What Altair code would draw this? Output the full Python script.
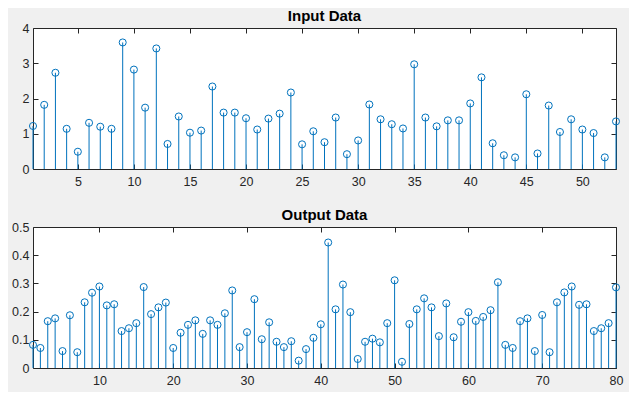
import altair as alt
import pandas as pd

BLUE = "#0072BD"
INK = "#262626"

input_values = [1.22, 1.82, 2.73, 1.14, 0.49, 1.31, 1.20, 1.14, 3.59, 2.82,
                1.74, 3.42, 0.71, 1.49, 1.03, 1.09, 2.34, 1.60, 1.60, 1.44,
                1.12, 1.43, 1.57, 2.17, 0.70, 1.07, 0.76, 1.46, 0.42, 0.81,
                1.83, 1.41, 1.27, 1.15, 2.97, 1.46, 1.21, 1.38, 1.38, 1.86,
                2.60, 0.73, 0.39, 0.33, 2.12, 0.44, 1.80, 1.05, 1.41, 1.12,
                1.02, 0.33, 1.35]

output_values = [0.082, 0.071, 0.166, 0.176, 0.060, 0.187, 0.056, 0.233, 0.267, 0.289,
                 0.222, 0.226, 0.131, 0.141, 0.159, 0.287, 0.191, 0.215, 0.232, 0.071,
                 0.125, 0.153, 0.169, 0.121, 0.169, 0.153, 0.194, 0.275, 0.074, 0.127,
                 0.244, 0.102, 0.162, 0.093, 0.074, 0.095, 0.026, 0.067, 0.107, 0.155,
                 0.445, 0.208, 0.296, 0.198, 0.032, 0.093, 0.104, 0.091, 0.159, 0.311,
                 0.022, 0.156, 0.208, 0.247, 0.215, 0.113, 0.229, 0.109, 0.164, 0.198,
                 0.167, 0.181, 0.205, 0.304, 0.082, 0.071, 0.166, 0.176, 0.060, 0.188,
                 0.056, 0.233, 0.268, 0.289, 0.224, 0.226, 0.131, 0.141, 0.159, 0.286]

input_xticks = [5, 10, 15, 20, 25, 30, 35, 40, 45, 50]
input_yticks = [0, 1, 2, 3, 4]
output_xticks = [10, 20, 30, 40, 50, 60, 70, 80]
output_yticks = [0, 0.1, 0.2, 0.3, 0.4, 0.5]

AX = dict(domain=False, grid=False, ticks=True, tickSize=5, offset=-5,
          tickColor=INK, tickWidth=1, labelColor=INK, labelFont="Liberation Sans",
          labelFontSize=12.5, labelFlush=False, labelOverlap=False, title=None)


def panel(vals, title, xdom, xticks, ydom, yticks, yfmt):
    df = pd.DataFrame({"n": list(range(1, len(vals) + 1)), "v": vals})
    xs = alt.Scale(domain=xdom, nice=False, zero=False)
    ys = alt.Scale(domain=ydom, nice=False, zero=True)
    stems = alt.Chart(df).mark_rule(color=BLUE, strokeWidth=1).encode(
        x=alt.X("n:Q", scale=xs,
                axis=alt.Axis(orient="bottom", values=xticks, format="d", labelPadding=6, **AX)),
        y=alt.Y("v:Q", scale=ys,
                axis=alt.Axis(orient="left", values=yticks, format=yfmt, labelPadding=4, **AX)),
        y2=alt.datum(0),
    )
    pts = alt.Chart(df).mark_point(shape="circle", filled=False, size=50, color=BLUE,
                                   strokeWidth=1, opacity=1).encode(
        x=alt.X("n:Q", scale=xs,
                axis=alt.Axis(orient="top", values=xticks, labels=False, **AX)),
        y=alt.Y("v:Q", scale=ys,
                axis=alt.Axis(orient="right", values=yticks, labels=False, **AX)),
    )
    return alt.layer(stems, pts).resolve_axis(x="independent", y="independent").properties(
        width=583, height=141,
        title=alt.Title(title, fontSize=15, font="Liberation Sans", fontWeight="bold",
                        color="black", offset=-2),
    )


top = panel(input_values, "Input Data", [1, 53], input_xticks, [0, 4], input_yticks, "d")
bottom = panel(output_values, "Output Data", [1, 80], output_xticks, [0, 0.5], output_yticks, ".1~f")

chart = alt.vconcat(top, bottom, spacing=19).properties(
    background="#f0f0f0",
    padding={"left": 3, "top": 0, "right": 5, "bottom": 5},
).configure_view(fill="white", stroke=INK, strokeWidth=1)

chart.save("out.html", embed_options={"renderer": "svg", "actions": False})
